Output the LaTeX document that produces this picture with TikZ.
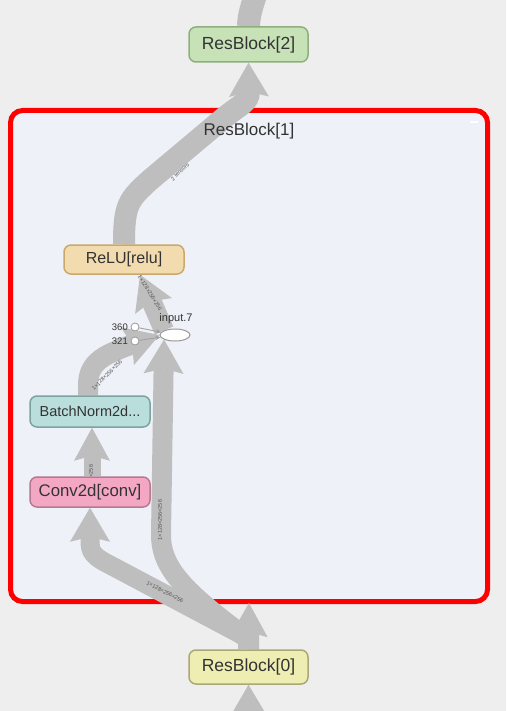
\documentclass[tikz,border=0pt]{standalone}
\usepackage{fontspec}
\setmainfont{Liberation Sans}
\usetikzlibrary{arrows.meta,calc,shapes.geometric}
\definecolor{bgc}{HTML}{EEEEEE}
\definecolor{boxc}{HTML}{EEF1F7}
\definecolor{edgec}{HTML}{BEBEBE}
\definecolor{txtc}{HTML}{333333}
\definecolor{lblc}{HTML}{555555}
\definecolor{gfill}{HTML}{C6E2B6}
\definecolor{gdraw}{HTML}{8FAE80}
\definecolor{yfill}{HTML}{EEEEB3}
\definecolor{ydraw}{HTML}{A9A877}
\definecolor{tfill}{HTML}{F2DBAE}
\definecolor{tdraw}{HTML}{C9A86A}
\definecolor{cfill}{HTML}{B9DEDC}
\definecolor{cdraw}{HTML}{7CA3A1}
\definecolor{pfill}{HTML}{F4A7C3}
\definecolor{pdraw}{HTML}{B57990}
\pgfdeclarelayer{bg}
\pgfdeclarelayer{edges}
\pgfsetlayers{bg,edges,main}
\begin{document}
\begin{tikzpicture}[x=1pt,y=-1pt,
  opbox/.style={rectangle, rounded corners=7pt, line width=1.5pt, text=txtc,
    font=\fontsize{16}{18}\selectfont, inner sep=0pt, minimum width=120pt},
  edge/.style={draw=edgec, line width=19pt,
    -{Stealth[length=34pt,width=40pt,inset=5pt,line width=0pt]}},
  edgelbl/.style={text=lblc, font=\fontsize{5.5}{6.5}\selectfont, inner sep=0pt},
  smallcirc/.style={circle, draw=gray!80, fill=white, line width=0.8pt, minimum size=8pt, inner sep=0pt},
  thinarrow/.style={draw=gray!75, line width=0.8pt, -{Stealth[length=5pt,width=4.5pt]}}]
\useasboundingbox (0,0) rectangle (506,711);
\begin{pgfonlayer}{bg}
  \fill[bgc] (0,0) rectangle (506,711);
  \draw[red, line width=5pt, fill=boxc, rounded corners=12pt] (10.5,110.5) rectangle (487.5,601.5);
\end{pgfonlayer}

% nodes
\node[opbox, fill=gfill, draw=gdraw, minimum width=119pt, minimum height=35pt, font=\fontsize{17.5}{19}\selectfont] (r2) at (248.5,44.5) {ResBlock[2]};
\node[opbox, fill=yfill, draw=ydraw, minimum width=119pt, minimum height=34pt, font=\fontsize{17.5}{19}\selectfont] (r0) at (248.5,667) {ResBlock[0]};
\node[opbox, fill=tfill, draw=tdraw, minimum height=29pt] (relu) at (124,259.5) {ReLU[relu]};
\node[opbox, fill=cfill, draw=cdraw, minimum height=31pt, font=\fontsize{14.5}{17}\selectfont] (bn) at (90,411.5) {BatchNorm2d...};
\node[opbox, fill=pfill, draw=pdraw, minimum height=30pt, font=\fontsize{16.8}{18}\selectfont] (conv) at (90,492) {Conv2d[conv]};
\node[text=txtc, font=\fontsize{17}{19}\selectfont, inner sep=0pt] (r1lbl) at (249,131) {ResBlock[1]};

% input.7 and its constant inputs
\node[smallcirc] (c360) at (135,327) {};
\node[smallcirc] (c321) at (135,341) {};
\node[ellipse, draw=gray!80, fill=white, line width=1pt, minimum width=30pt, minimum height=12pt, inner sep=0pt] (inp) at (175,335) {};
\draw[thinarrow] (c360) -- (inp);
\draw[thinarrow] (c321) -- (inp);
\node[text=txtc, font=\fontsize{11}{12}\selectfont, inner sep=0pt] (inplbl) at (176,319) {input.7};
\node[text=txtc, font=\fontsize{9.5}{11}\selectfont, inner sep=0pt, anchor=east] (l360) at (128,327) {360};
\node[text=txtc, font=\fontsize{9.5}{11}\selectfont, inner sep=0pt, anchor=east] (l321) at (128,341) {321};
\draw[white, line width=2pt] (470,122) -- (478,122);

\coordinate (r1in) at (249,603);
\coordinate (botin) at (249,760);
\coordinate (topout) at (257,-12);
\coordinate (r0split) at (244,636);

% edges
\begin{pgfonlayer}{edges}
  \draw[edge, line width=23pt, -] (r2.north) .. controls (249,10) and (255,0) .. (topout);
  \draw[edge, line width=22pt] (botin) -- (r0.south);
  \draw[edge, line width=21pt, -{Stealth[length=34pt,width=38pt,inset=5pt,line width=0pt]}] (r0.north) -- (r1in);
  \draw[edge] (r0split) -- (112,566) .. controls (92,556) and (90,552) .. (90,540) -- (conv.south);
  \draw[edge, line width=20pt] (r0split) .. controls (185,592) and (161,568) .. (161,535) -- (inp.south west);
  \draw[edge, line width=17pt, -{Stealth[length=33pt,width=36pt,inset=5pt,line width=0pt]}] ([xshift=2pt]conv.north) -- ([xshift=2pt]bn.south);
  \draw[edge, line width=20pt] ([xshift=-2pt]bn.north) -- (88,385) .. controls (88,362) and (105,355) .. (125,347) -- (inp.west);
  \draw[edge, line width=20pt] (inp.north west) -- ($(relu.south)+(16,0)$);
  \draw[edge, line width=22pt] (relu.north) .. controls (124,205) and (128,200) .. (150,180) -- (225,117) .. controls (240,105) and (249,102) .. (r2.south);
  \node[edgelbl, rotate=-27] at (165,592) {1×128×256×256};
  \node[edgelbl, rotate=90] at (160,520) {1×128×256×256};
  \node[edgelbl, rotate=90] at (91,485) {1×128×256×256};
  \node[edgelbl, rotate=45] at (107,375) {1×128×256×256};
  \node[edgelbl, rotate=-58] at (150,293) {1×128×256×256};
  \node[edgelbl, rotate=43] at (180,172) {2 tensors};
\end{pgfonlayer}
\end{tikzpicture}
\end{document}
